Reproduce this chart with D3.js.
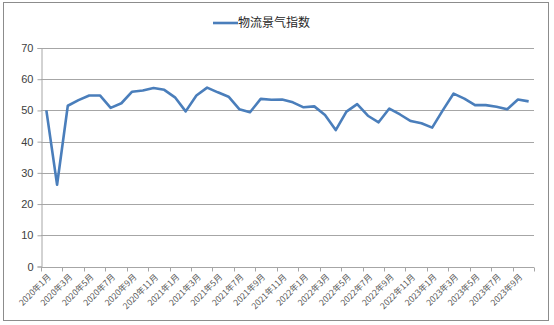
<!DOCTYPE html>
<html>
<head>
<meta charset="utf-8">
<script src="https://cdn.jsdelivr.net/npm/d3@7"></script>
<style>
  body { margin: 0; background: #fff; }
  svg { display: block; font-family: "Liberation Sans", "Noto Sans CJK SC", sans-serif; }
</style>
</head>
<body>
<script>
// data
var months = [];
var years = [2020, 2021, 2022, 2023];
years.forEach(function(y) {
    for (var m = 1; m <= 12; m++) {
        if (y === 2023 && m > 10) break;
        months.push(y + "年" + m + "月");
    }
});

var values = [
    50.0, 26.2, 51.5, 53.3, 54.8, 54.8, 50.8, 52.3, 56.0, 56.4, 57.2, 56.6,
    54.2, 49.7, 54.8, 57.3, 55.8, 54.4, 50.4, 49.4, 53.7, 53.4, 53.5, 52.6,
    51.0, 51.3, 48.5, 43.7, 49.6, 52.0, 48.3, 46.2, 50.6, 48.7, 46.6, 45.9,
    44.5, 50.1, 55.4, 53.8, 51.7, 51.7, 51.2, 50.4, 53.5, 52.9
];

var yTicks = [0, 10, 20, 30, 40, 50, 60, 70];
var seriesName = "物流景气指数";

var width = 554, height = 325;
var lineColor = "#4a7ebb";

var svg = d3.select("body")
    .append("svg")
    .attr("width", width)
    .attr("height", height);

// outer frame
svg.append("rect")
    .attr("x", 3.5).attr("y", 2.5)
    .attr("width", 545).attr("height", 318)
    .attr("fill", "#fff")
    .attr("stroke", "#8c8c8c")
    .attr("stroke-width", 1);

var xScale = d3.scaleBand()
    .domain(months)
    .range([41, 534])
    .padding(0);

var yScale = d3.scaleLinear()
    .domain([0, 70])
    .range([266.5, 48]);

// gridlines
svg.append("g")
    .selectAll("line")
    .data(yTicks.slice(1))
    .enter()
    .append("line")
    .attr("x1", 41).attr("x2", 534)
    .attr("y1", function(d) { return Math.round(yScale(d)) + 0.5; })
    .attr("y2", function(d) { return Math.round(yScale(d)) + 0.5; })
    .attr("stroke", "#a6a6a6")
    .attr("stroke-width", 1);

// y axis
var yAxis = d3.axisLeft(yScale)
    .tickValues(yTicks)
    .tickSize(4)
    .tickPadding(4);

var gy = svg.append("g")
    .attr("transform", "translate(41.5,0)")
    .call(yAxis);
gy.select(".domain").attr("stroke", "#a6a6a6");
gy.selectAll(".tick line").attr("stroke", "#a6a6a6");
gy.selectAll(".tick text")
    .attr("fill", "#404040")
    .style("font-size", "11px");

// x axis
var xAxisY = Math.round(yScale(0)) + 0.5;
svg.append("line")
    .attr("x1", 41).attr("x2", 534)
    .attr("y1", xAxisY).attr("y2", xAxisY)
    .attr("stroke", "#a6a6a6");

var tickPos = months.filter(function(d, i) { return i % 2 === 0; })
    .map(function(d) { return xScale(d); });
tickPos.push(xScale.range()[1]);

svg.append("g")
    .selectAll("line")
    .data(tickPos)
    .enter()
    .append("line")
    .attr("x1", function(d) { return Math.round(d) + 0.5; })
    .attr("x2", function(d) { return Math.round(d) + 0.5; })
    .attr("y1", xAxisY)
    .attr("y2", xAxisY + 4)
    .attr("stroke", "#a6a6a6");

svg.append("g")
    .selectAll("text")
    .data(months.filter(function(d, i) { return i % 2 === 0; }))
    .enter()
    .append("text")
    .text(function(d) { return d; })
    .attr("transform", function(d) {
        var x = xScale(d) + xScale.bandwidth() / 2 + 3;
        return "translate(" + x + "," + (xAxisY + 8) + ") rotate(-45)";
    })
    .attr("text-anchor", "end")
    .attr("dy", "0.35em")
    .attr("fill", "#595959")
    .style("font-size", "8.5px")
    .style("font-family", "'Noto Sans CJK SC', sans-serif");

// line
var line = d3.line()
    .x(function(d, i) { return xScale(months[i]) + xScale.bandwidth() / 2; })
    .y(function(d) { return yScale(d); });

svg.append("path")
    .datum(values)
    .attr("d", line)
    .attr("fill", "none")
    .attr("stroke", lineColor)
    .attr("stroke-width", 2.6)
    .attr("stroke-linejoin", "round");

// legend
svg.append("line")
    .attr("x1", 213).attr("x2", 238)
    .attr("y1", 23).attr("y2", 23)
    .attr("stroke", lineColor)
    .attr("stroke-width", 2.6);

svg.append("text")
    .text(seriesName)
    .attr("x", 238)
    .attr("y", 23)
    .attr("dy", "0.35em")
    .attr("fill", "#262626")
    .style("font-size", "12px")
    .style("font-family", "'Noto Sans CJK SC', sans-serif");
</script>
</body>
</html>
